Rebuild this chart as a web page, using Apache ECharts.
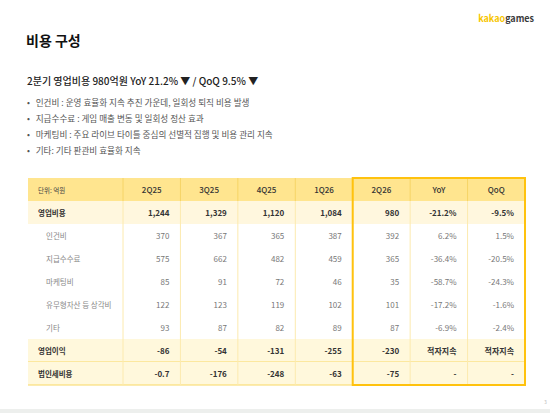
<!DOCTYPE html>
<html><head><meta charset="utf-8">
<script src="https://cdn.jsdelivr.net/npm/echarts@6/dist/echarts.min.js"></script>
<style>html,body{margin:0;padding:0;background:#fff}#c{width:550px;height:413px}</style>
</head><body><div id="c"></div>
<script>
// ---- data ----
const pageTitle = '비용 구성';
const subTitle = '2분기 영업비용 980억원 YoY 21.2% ▼ / QoQ 9.5% ▼';
const bullets = [
  '인건비 : 운영 효율화 지속 추진 가운데, 일회성 퇴직 비용 발생',
  '지급수수료 : 게임 매출 변동 및 일회성 정산 효과',
  '마케팅비 : 주요 라이브 타이틀 중심의 선별적 집행 및 비용 관리 지속',
  '기타: 기타 판관비 효율화 지속'
];
const unitLabel = '단위: 억원';
const columns = ['2Q25', '3Q25', '4Q25', '1Q26', '2Q26', 'YoY', 'QoQ'];
const rowLabels = ['영업비용', '인건비', '지급수수료', '마케팅비', '유무형자산 등 상각비', '기타', '영업이익', '법인세비용'];
const boldRows = [true, false, false, false, false, false, true, true];
const q2_25 = [1244, 370, 575, 85, 122, 93, -86, -0.7];
const q3_25 = [1329, 367, 662, 91, 123, 87, -54, -176];
const q4_25 = [1120, 365, 482, 72, 119, 82, -131, -248];
const q1_26 = [1084, 387, 459, 46, 102, 89, -255, -63];
const q2_26 = [980, 392, 365, 35, 101, 87, -230, -75];
const yoy = [-21.2, 6.2, -36.4, -58.7, -17.2, -6.9, '적자지속', '-'];
const qoq = [-9.5, 1.5, -20.5, -24.3, -1.6, -2.4, '적자지속', '-'];
const valueCols = [q2_25, q3_25, q4_25, q1_26, q2_26, yoy, qoq];

// ---- layout (not data) ----
const FONT = '"Noto Sans CJK KR", "Noto Sans", sans-serif';
const labelW = 95, tableW = 497;
const colW = (tableW - labelW) / columns.length;
const edges = [0];
for (let i = 0; i <= columns.length; i++) edges.push(labelW + i * colW);
const rowKeys = ['header'].concat(rowLabels);

function fmt(v, isPct) {
  if (typeof v === 'string') return v;
  if (isPct) return v.toFixed(1) + '%';
  if (Math.abs(v) < 10 && v % 1 !== 0) return String(v);
  return v.toLocaleString('en-US');
}

// cells: [colIndex, rowIndex, text, kind]
const cells = [];
cells.push([0, 0, unitLabel, 'unit']);
columns.forEach((c, j) => cells.push([j + 1, 0, c, 'head']));
rowLabels.forEach((r, i) => {
  cells.push([0, i + 1, r, boldRows[i] ? 'blabel' : 'slabel']);
  valueCols.forEach((arr, j) => {
    cells.push([j + 1, i + 1, fmt(arr[i], j >= 5), boldRows[i] ? 'bval' : 'sval']);
  });
});

const rowBg = (ri) => ri === 0 ? '#FFE58F' : (ri === 1 ? '#FFF7DE' : (ri >= 7 ? '#FFF8DC' : '#FFFFFF'));

const chart = echarts.init(document.getElementById('c'), null, { renderer: 'svg' });
chart.setOption({
  animation: false,
  grid: { left: 28, top: 178, width: tableW, height: 207 },
  xAxis: { type: 'value', min: 0, max: tableW, show: false },
  yAxis: { type: 'category', data: rowKeys, inverse: true, show: false },
  graphic: [
    { type: 'rect', shape: { x: 0, y: 409, width: 550, height: 4 }, style: { fill: '#EDEFED' } },
    { type: 'text', left: 26, top: 33, style: { text: pageTitle, font: 'bold 14px ' + FONT, fill: '#111' } },
    { type: 'text', left: 27, top: 75, style: { text: subTitle, font: '500 10px ' + FONT, fill: '#222' } },
    ...bullets.map((b, i) => ({ type: 'text', left: 27, top: 97.5 + i * 16,
      style: { text: '•   ' + b, font: '8.6px ' + FONT, fill: '#555' } })),
    { type: 'text', right: 16, top: 14, style: { rich: {
      k: { font: 'bold 9px ' + FONT, fill: '#F7C600' }, g: { font: 'bold 9px ' + FONT, fill: '#3A3A3A' } },
      text: '{k|kakao}{g|games}' } },
    { type: 'text', left: 544, top: 399, style: { text: '3', font: '5px ' + FONT, fill: '#bbb' } }
  ],
  series: [
    { // row backgrounds
      type: 'custom', silent: true, z: 1,
      data: rowKeys.map((k, i) => [0, i]),
      renderItem: (params, api) => {
        const ri = api.value(1);
        const p0 = api.coord([0, ri]);
        const p1 = api.coord([tableW, ri]);
        const h = api.size([0, 1])[1];
        const children = [{ type: 'rect', shape: { x: p0[0], y: p0[1] - h / 2, width: p1[0] - p0[0], height: h }, style: { fill: rowBg(ri) } }];
        if (ri >= 7) children.push({ type: 'line', shape: { x1: p0[0], y1: p0[1] + h / 2, x2: p1[0], y2: p0[1] + h / 2 }, style: { stroke: '#F8D862', lineWidth: 1 } });
        return { type: 'group', children };
      }
    },
    { // cells (text + column lines)
      type: 'custom', silent: true, z: 2,
      data: cells,
      renderItem: (params, api) => {
        const ci = api.value(0), ri = api.value(1);
        const d = cells[params.dataIndex];
        const kind = d[3];
        const left = api.coord([edges[ci], ri]);
        const right = api.coord([edges[ci + 1], ri]);
        const h = api.size([0, 1])[1];
        const cy = left[1];
        const children = [];
        if (ci < columns.length) {
          children.push({ type: 'line', shape: { x1: right[0], y1: cy - h / 2, x2: right[0], y2: cy + h / 2 },
            style: { stroke: ri === 0 ? '#F6D466' : '#FCEAAE', lineWidth: 1 } });
        }
        let x, align, font, fill;
        if (kind === 'unit') { x = left[0] + 10; align = 'left'; font = '6.5px ' + FONT; fill = '#444'; }
        else if (kind === 'head') { x = (left[0] + right[0]) / 2; align = 'center'; font = '500 8px ' + FONT; fill = '#333'; }
        else if (kind === 'blabel') { x = left[0] + 10; align = 'left'; font = 'bold 7.5px ' + FONT; fill = '#333'; }
        else if (kind === 'slabel') { x = left[0] + 18; align = 'left'; font = '7.5px ' + FONT; fill = '#888'; }
        else if (kind === 'bval') { x = right[0] - 11; align = 'right'; font = 'bold 8px ' + FONT; fill = '#333'; }
        else { x = right[0] - 11; align = 'right'; font = '8px ' + FONT; fill = '#777'; }
        children.push({ type: 'text', style: { x, y: cy, text: d[2], align, verticalAlign: 'middle', font, fill } });
        return { type: 'group', children };
      }
    },
    { // highlight box around current-quarter columns
      type: 'custom', silent: true, z: 3,
      data: [[0]],
      renderItem: (params, api) => {
        const h = api.size([0, 1])[1];
        const tl = api.coord([edges[5], 0]);
        const br = api.coord([tableW, rowKeys.length - 1]);
        return { type: 'rect', shape: { x: tl[0], y: tl[1] - h / 2, width: br[0] - tl[0], height: br[1] - tl[1] + h },
          style: { fill: 'none', stroke: '#FFC20E', lineWidth: 2 } };
      }
    }
  ]
});
</script>
</body></html>
